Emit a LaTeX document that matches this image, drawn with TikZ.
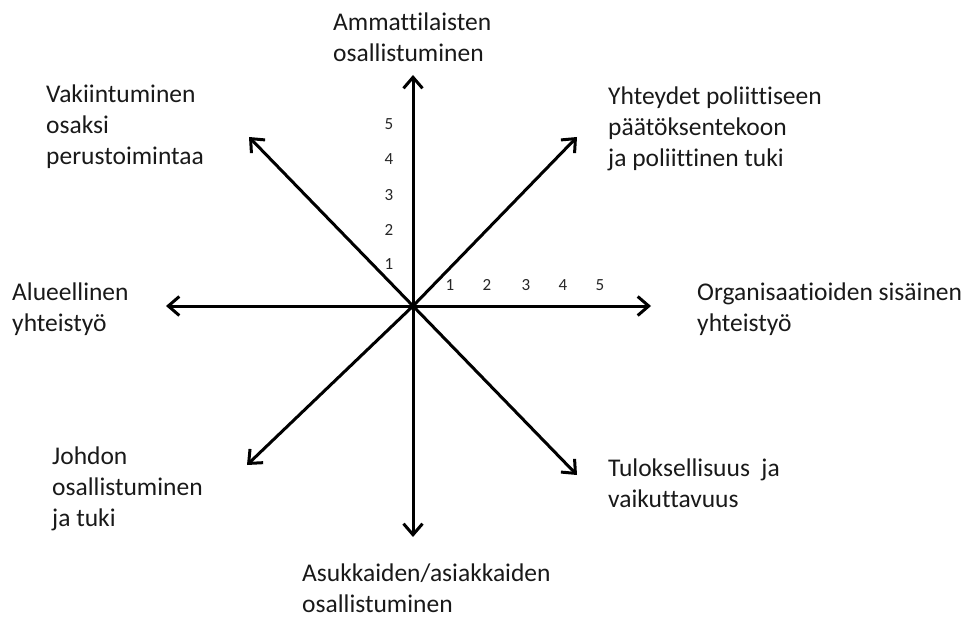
\documentclass[tikz,border=0pt]{standalone}
\usepackage{fontspec}
\setmainfont{Carlito}[Ligatures={NoCommon}]
\usetikzlibrary{arrows.meta}
\tikzset{
  axis/.style={line width=3pt, -{Straight Barb[length=11pt,width=19pt,line width=3pt]}},
  lbl/.style={anchor=base west, inner sep=0pt, align=left, font=\fontsize{25.5}{31}\selectfont, text=black!90},
  num/.style={anchor=center, inner sep=0pt, font=\fontsize{17}{20}\selectfont, text=black!85}
}
\begin{document}
\begin{tikzpicture}[x=1pt,y=-1pt]
\useasboundingbox (0,0) rectangle (968,620);
\coordinate (O) at (413,306);
\coordinate (up) at (413,75);
\coordinate (down) at (413,537);
\coordinate (left) at (166,306);
\coordinate (right) at (651,306);
\coordinate (ur) at (577,137);
\coordinate (ul) at (249,137);
\coordinate (ll) at (247,465);
\coordinate (lr) at (577,475);
\foreach \t in {up,down,left,right,ur,ul,ll,lr} \draw[axis] (O) -- (\t);
% scale numbers
\foreach \n/\y in {1/264,2/230,3/195,4/159,5/124} \node[num] (v\n) at (389,\y) {\n};
\foreach \n/\x in {1/450,2/487,3/526,4/563,5/600} \node[num] (h\n) at (\x,285) {\n};
% labels (y = baseline of last line)
\node[lbl] (tA) at (333,62) {Ammattilaisten\\osallistuminen};
\node[lbl] (tV) at (46,165) {Vakiintuminen\\osaksi\\perustoimintaa};
\node[lbl] (tY) at (608,167) {Yhteydet poliittiseen\\päätöksentekoon\\ja poliittinen tuki};
\node[lbl] (tAl) at (12,331) {Alueellinen\\yhteistyö};
\node[lbl] (tO) at (697,331) {Organisaatioiden sisäinen\\yhteistyö};
\node[lbl] (tJ) at (52,526) {Johdon\\osallistuminen\\ja tuki};
\node[lbl] (tT) at (608,507) {Tuloksellisuus~ ja\\vaikuttavuus};
\node[lbl] (tAs) at (302,612) {Asukkaiden/asiakkaiden\\osallistuminen};
\end{tikzpicture}
\end{document}
